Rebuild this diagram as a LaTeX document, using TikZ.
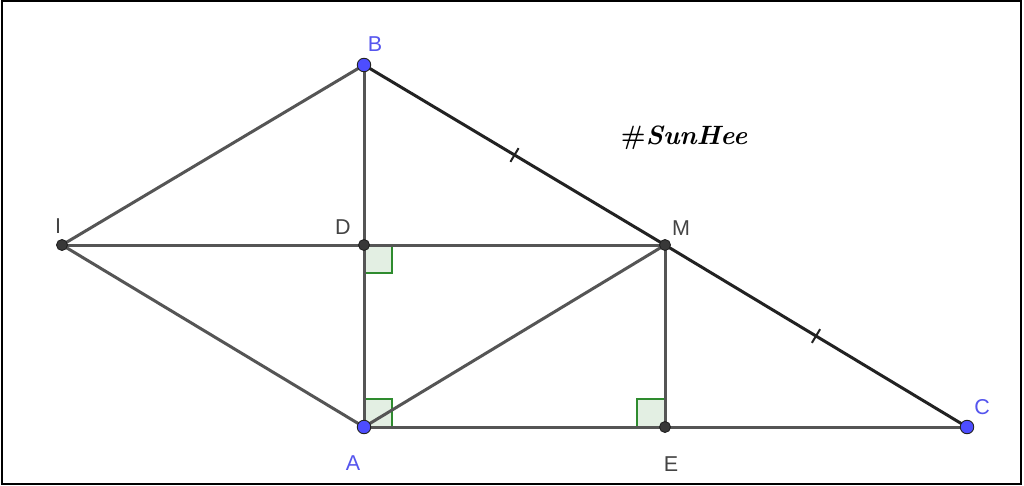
\documentclass[tikz,border=0pt]{standalone}
\usepackage{fontspec}
\usetikzlibrary{calc}
\newfontfamily\labelfont{Liberation Sans}
\definecolor{segcol}{HTML}{555555}
\definecolor{darkseg}{HTML}{222222}
\definecolor{bluept}{HTML}{4D4DFF}
\definecolor{bluelab}{HTML}{5555EE}
\definecolor{graylab}{HTML}{444444}
\definecolor{angfill}{HTML}{E3EFE3}
\definecolor{angdraw}{HTML}{2E8B2E}
\begin{document}
\begin{tikzpicture}[x=1pt,y=-1pt,
  seg/.style={draw=segcol,line width=3pt},
  dseg/.style={draw=darkseg,line width=3pt},
  bpt/.style={circle,fill=bluept,draw=darkseg,line width=0.9pt,inner sep=0pt,minimum size=13.5pt},
  gpt/.style={circle,fill=darkseg!90,draw=darkseg,line width=0.9pt,inner sep=0pt,minimum size=11pt},
  blab/.style={text=bluelab,font=\labelfont\fontsize{21.5}{21.5}\selectfont,inner sep=0pt},
  glab/.style={text=graylab,font=\labelfont\fontsize{21.5}{21.5}\selectfont,inner sep=0pt},
  taglab/.style={font=\fontsize{26.5}{26.5}\selectfont\bfseries,inner sep=0pt},
  rangle/.style={fill=angfill,draw=angdraw,line width=2pt},
  tickm/.style={draw=darkseg,line width=2pt}]
\useasboundingbox (0,0) rectangle (1024,486);
\fill[white] (0,0) rectangle (1024,486);
\draw[black,line width=2pt] (1.5,1.5) rectangle (1021,483.5);
% coordinates
\coordinate (pB) at (364,65);
\coordinate (pA) at (364,427);
\coordinate (pC) at (967,427);
\coordinate (pM) at (665,245);
\coordinate (pD) at (364,245);
\coordinate (pE) at (665,427);
\coordinate (pI) at (62,245);
% right angle marks
\draw[rangle] (364,245) rectangle (392,273);
\draw[rangle] (364,427) rectangle (392,399);
\draw[rangle] (665,427) rectangle (637,399);
% segments
\draw[seg] (pI) -- (pB);
\draw[seg] (pI) -- (pA);
\draw[seg] (pI) -- (pM);
\draw[seg] (pB) -- (pA);
\draw[seg] (pA) -- (pC);
\draw[seg] (pA) -- (pM);
\draw[seg] (pM) -- (pE);
\draw[dseg] (pB) -- (pM);
\draw[dseg] (pM) -- (pC);
% tick marks
\coordinate (t1) at ($(pB)!0.5!(pM)$);
\coordinate (t2) at ($(pM)!0.5!(pC)$);
\draw[tickm] ($(t1)!8pt!90:(pM)$) -- ($(t1)!8pt!-90:(pM)$);
\draw[tickm] ($(t2)!8pt!90:(pC)$) -- ($(t2)!8pt!-90:(pC)$);
% points
\node[bpt] (B) at (pB) {};
\node[bpt] (A) at (pA) {};
\node[bpt] (C) at (pC) {};
\node[gpt] (M) at (pM) {};
\node[gpt] (D) at (pD) {};
\node[gpt] (E) at (pE) {};
\node[gpt] (I) at (pI) {};
% labels
\node[blab] (lB) at (375,44) {B};
\node[blab] (lA) at (353,463) {A};
\node[blab] (lC) at (982,407) {C};
\node[glab] (lM) at (681,228) {M};
\node[glab] (lD) at (343,227) {D};
\node[glab] (lE) at (671,464) {E};
\node[glab] (lI) at (58,226) {I};
\node[taglab] (sig) at (684,138) {\#\itshape SunHee};
\end{tikzpicture}
\end{document}
